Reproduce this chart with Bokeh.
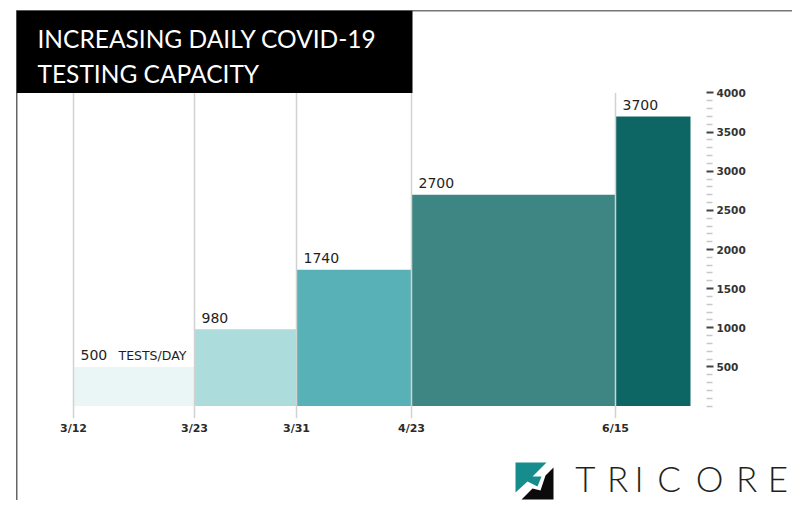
from bokeh.plotting import figure
from bokeh.layouts import column
from bokeh.models import Range1d, FixedTicker
from bokeh.core.properties import value
from bokeh.embed import file_html
from bokeh.resources import INLINE

# ---- data ----
dates = ["3/12", "3/23", "3/31", "4/23", "6/15"]
capacity = [500, 980, 1740, 2700, 3700]
bar_labels = ["500", "980", "1740", "2700", "3700"]
y_ticks = [500, 1000, 1500, 2000, 2500, 3000, 3500, 4000]
title_lines = ["INCREASING DAILY COVID-19", "TESTING CAPACITY"]
unit_label = "TESTS/DAY"
brand = list("TRICORE")

# ---- styles / layout ----
bar_colors = ["#eaf6f6", "#acdcdc", "#58b1b6", "#3e8683", "#0e6664"]
edges = [73, 194, 296, 411, 615, 690]   # layout of the step columns (px)
Y0, K = 405.6, 0.0783                   # pixel row of value 0, px per unit
W, H_TOP, H_ALL = 792, 440, 500
BL = 0.41                               # baseline correction (em)


def y_of(py):
    return (Y0 - py) / K


p = figure(width=W, height=H_TOP, output_backend="svg", toolbar_location=None,
           x_range=Range1d(16, 706), y_range=Range1d(y_of(418), y_of(10)),
           y_axis_location="right", min_border_left=16, min_border_right=W - 706,
           min_border_top=10, min_border_bottom=H_TOP - 418)
p.outline_line_color = None
p.grid.visible = False
p.background_fill_color = None
p.border_fill_color = None

# bars
p.quad(left=edges[:-1], right=edges[1:], bottom=0, top=capacity,
       fill_color=bar_colors, line_color=None)

# vertical date lines
p.segment(x0=edges[:5], x1=edges[:5], y0=p.y_range.start, y1=y_ticks[-1],
          line_color="#d2d2d2", line_width=1.5)

# value labels
p.text(x=edges[:5], y=capacity, text=bar_labels, x_offset=7, y_offset=-6 - BL * 14,
       text_font=value("DejaVu Sans"), text_font_size="14px",
       text_color="#1e1e1e", text_baseline="alphabetic")
p.text(x=[edges[0]], y=[capacity[0]], text=[unit_label], x_offset=45,
       y_offset=-6 - BL * 12.5,
       text_font=value("DejaVu Sans"), text_font_size="12.5px",
       text_color="#1e1e1e", text_baseline="alphabetic")

# title box
p.quad(left=16, right=412, bottom=y_ticks[-1], top=p.y_range.end,
       fill_color="black", line_color=None)
p.text(x=[37, 37], y=[y_of(48), y_of(83)], text=title_lines, text_color="white",
       y_offset=-BL * 24.5,
       text_font=value("Lato"), text_font_size="24.5px", text_baseline="alphabetic")

# right axis
ya = p.yaxis[0]
ya.ticker = FixedTicker(ticks=y_ticks,
                        minor_ticks=[v for v in range(0, 4000, 100) if v == 0 or v % 500])
ya.axis_line_color = None
ya.major_tick_in = 0
ya.major_tick_out = 7
ya.minor_tick_in = 0
ya.minor_tick_out = 6
ya.major_tick_line_color = "#444444"
ya.major_tick_line_width = 2
ya.minor_tick_line_color = "#c8c8c8"
ya.minor_tick_line_width = 1.5
ya.major_label_standoff = 3
ya.major_label_text_font = "DejaVu Sans"
ya.major_label_text_font_style = "bold"
ya.major_label_text_font_size = "10.5px"
ya.major_label_text_color = "#333333"

# bottom axis
xa = p.xaxis[0]
xa.ticker = FixedTicker(ticks=edges[:5])
xa.major_label_overrides = {e: d for e, d in zip(edges[:5], dates)}
xa.axis_line_color = None
xa.major_tick_line_color = None
xa.minor_tick_line_color = None
xa.major_tick_in = 0
xa.major_tick_out = 0
xa.major_label_standoff = 3
xa.major_label_text_font = "DejaVu Sans"
xa.major_label_text_font_style = "bold"
xa.major_label_text_font_size = "11px"
xa.major_label_text_color = "#2a2a2a"

# ---- logo strip ----
q = figure(width=W, height=H_ALL - H_TOP, output_backend="svg", toolbar_location=None,
           x_range=Range1d(0, W), y_range=Range1d(H_ALL, H_TOP),
           x_axis_location=None, y_axis_location=None,
           min_border=0, min_border_left=0, min_border_right=0,
           min_border_top=0, min_border_bottom=0)
q.outline_line_color = None
q.grid.visible = False
q.background_fill_color = None
q.border_fill_color = None

for fig in (p, q):
    try:
        fig.frame_align = False
    except Exception:
        pass

teal = [(515, 462), (546, 462), (532, 476), (541, 476), (537, 486), (527, 481), (515, 492)]
black = [(553, 467), (553, 499), (521, 499), (532, 488), (540, 490), (545, 475)]
q.patches(xs=[[a for a, b in teal], [a for a, b in black]],
          ys=[[b for a, b in teal], [b for a, b in black]],
          fill_color=["#168c8c", "#0b0b0b"], line_color=None)
q.text(x=[585, 617, 638.5, 668.5, 709, 746, 777.5], y=[493.5] * 7, text=brand,
       y_offset=-0.45 * 35,
       text_align="center", text_baseline="alphabetic",
       text_font=value("'Lato Light', Lato"), text_font_size="35px",
       text_color="#231f20")

page = column(p, q, spacing=0, styles={
    "box-shadow": ("inset 0 10px 0 0 #ffffff, inset 16px 0 0 0 #ffffff, "
                   "inset 0 11.5px 0 0 #777777, inset 17.5px 0 0 0 #666666"),
    "background-color": "#ffffff"})

open("out.html", "w").write(file_html(page, INLINE))
